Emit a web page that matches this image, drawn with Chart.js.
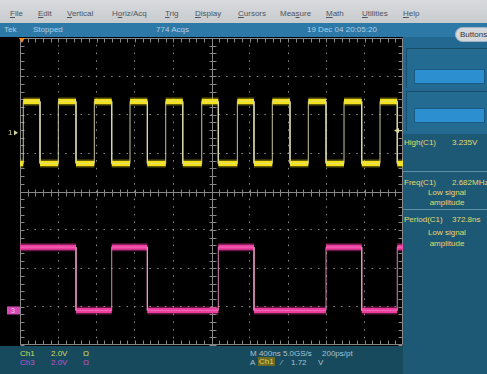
<!DOCTYPE html>
<html>
<head>
<meta charset="utf-8">
<title>Tek DPO – Ch1 / Ch3</title>
<script src="https://cdn.jsdelivr.net/npm/chart.js@4.4.1/dist/chart.umd.min.js"></script>
<style>
  html, body { margin: 0; padding: 0; }
  body {
    width: 487px; height: 374px; overflow: hidden; position: relative;
    background: #000; font-family: "Liberation Sans", Arial, sans-serif;
  }
  #menu { position: absolute; left: 0; top: 0; width: 487px; height: 23px;
          background: linear-gradient(#d8dadd, #c8cbce); }
  #menu span { position: absolute; top: 9px; font-size: 8px; color: #4d5563; }
  #menu span u { text-decoration: underline; }
  #status { position: absolute; left: 0; top: 23px; width: 487px; height: 14px; background: #2c78a7; }
  #status span { position: absolute; top: 2px; font-size: 8px; color: #b0cfe4; }
  #buttons { position: absolute; left: 455px; top: 27px; width: 38px; height: 15px; border-radius: 9px;
             background: #d5d8db; border: 1px solid #9fb4c4; box-sizing: border-box;
             font-size: 8px; line-height: 13px; color: #2f3438; padding-left: 4px; z-index: 3; }
  #scope { position: absolute; left: 0; top: 37px; }
  #side { position: absolute; left: 403px; top: 37px; width: 84px; height: 337px; background: #1d5874; }
  #side .upper { position: absolute; left: 0; top: 0; width: 84px; height: 97px; background: #226890; }
  #side .box { position: absolute; left: 3px; width: 81px; height: 40px; background: #246b92;
               border-top: 1px solid #174b68; border-left: 1px solid #174b68; box-sizing: border-box; }
  #side .bar { position: absolute; left: 7px; width: 71px; height: 15px; background: #2b8fd0;
               border: 1px solid #1a5b85; box-sizing: border-box; }
  #side .meas { position: absolute; left: 1px; font-size: 8px; color: #e3dc6c; white-space: nowrap; }
  #side .val { position: absolute; left: 49px; font-size: 8px; color: #e3dc6c; white-space: nowrap; }
  #side .note { position: absolute; left: 0; width: 88px; text-align: center; font-size: 8px; color: #e3dc6c; }
  #side .rule { position: absolute; left: 0; width: 84px; height: 1px; background: #5f8ea6; }
  #bottom { position: absolute; left: 0; top: 346px; width: 403px; height: 28px; background: #174a5c; }
  #bottom span { position: absolute; font-size: 8px; white-space: nowrap; }
  .c1 { color: #d9d862; }
  .c3 { color: #c255cc; }
  .hz { color: #a9c2cf; }
</style>
</head>
<body>
<div id="menu">
  <span style="left:10px"><u>F</u>ile</span>
  <span style="left:38px"><u>E</u>dit</span>
  <span style="left:67px"><u>V</u>ertical</span>
  <span style="left:112px">H<u>o</u>riz/Acq</span>
  <span style="left:165px"><u>T</u>rig</span>
  <span style="left:195px"><u>D</u>isplay</span>
  <span style="left:238px"><u>C</u>ursors</span>
  <span style="left:280px">Mea<u>s</u>ure</span>
  <span style="left:326px"><u>M</u>ath</span>
  <span style="left:362px"><u>U</u>tilities</span>
  <span style="left:403px"><u>H</u>elp</span>
</div>
<div id="status">
  <span style="left:4px">Tek</span>
  <span style="left:33px">Stopped</span>
  <span style="left:156px">774 Acqs</span>
  <span style="left:307px">19 Dec 04 20:05:20</span>
</div>
<div id="buttons">Buttons</div>

<canvas id="scope" width="404" height="309"></canvas>

<div id="side">
  <div class="upper"></div>
  <div class="box" style="top:11px"><div class="bar" style="top:20px"></div></div>
  <div class="box" style="top:54px"><div class="bar" style="top:16px"></div></div>
  <span class="meas" style="top:101px">High(C1)</span><span class="val" style="top:101px" id="highVal"></span>
  <div class="rule" style="top:134px"></div>
  <span class="meas" style="top:141px">Freq(C1)</span><span class="val" style="top:141px" id="freqVal"></span>
  <div class="note" style="top:151px">Low signal</div>
  <div class="note" style="top:161px">amplitude</div>
  <div class="rule" style="top:172px"></div>
  <span class="meas" style="top:178px">Period(C1)</span><span class="val" style="top:178px" id="periodVal"></span>
  <div class="note" style="top:191px">Low signal</div>
  <div class="note" style="top:202px">amplitude</div>
</div>

<div id="bottom">
  <span class="c1" style="left:20px;top:3px">Ch1</span>
  <span class="c1" style="left:51px;top:3px" id="ch1Scale"></span>
  <span class="c1" style="left:83px;top:3px">Ω</span>
  <span class="c3" style="left:20px;top:12px">Ch3</span>
  <span class="c3" style="left:51px;top:12px" id="ch3Scale"></span>
  <span class="c3" style="left:83px;top:12px">Ω</span>
  <span class="hz" style="left:250px;top:3px" id="timebase"></span>
  <span class="hz" style="left:322px;top:3px">200ps/pt</span>
  <span class="hz" style="left:250px;top:12px">A</span>
  <span class="c1" style="left:258px;top:11px;background:#6d6a24;padding:0 1px">Ch1</span>
  <span class="hz" style="left:281px;top:12px">⁄</span>
  <span class="hz" style="left:291px;top:12px" id="trigLevel"></span>
  <span class="hz" style="left:318px;top:12px">V</span>
</div>

<script>
// ---- acquisition settings ----
const nsPerDiv = 400;          // M 400ns
const timeDivs = 10;
const voltDivs = 8;
const ch1VoltsPerDiv = 2.0;
const ch3VoltsPerDiv = 2.0;
const ch1PositionDiv = 1.53;   // channel marker position (divisions from centre)
const ch1OffsetV = 1.6;
const ch3PositionDiv = -3.1;
const ch3OffsetV = 0.0;
const triggerTimeNs = 20;
const triggerLevelV = 1.72;

// ---- measurements ----
const ch1HighV = 3.235;        // High(C1)
const ch1LowV = 0.0;
const ch1FreqMHz = 2.682;      // Freq(C1)
const ch1PeriodNs = 372.8;     // Period(C1)
const ch3HighV = 3.3;
const ch3LowV = 0.0;

// ---- Ch1 edges (ns after left edge of record) ----
const ch1RiseNs = [34, 400, 776, 1149, 1522, 1898, 2270, 2635, 3011, 3384, 3760];
const ch1FallNs = [209, 585, 958, 1330, 1700, 2071, 2444, 2820, 3196, 3569, 3940];
const ch1StartsHigh = false;

// ---- Ch3 edges ----
const ch3RiseNs = [958, 2071, 3196, 3940];
const ch3FallNs = [585, 1330, 2444, 3569];
const ch3StartsHigh = true;

// ---- colours ----
const ch1Colour = '#f3e21c';
const ch3Colour = '#ee3c9f';
const gridGrey = '#878787';

const timeMin = 0;
const timeMax = nsPerDiv * timeDivs;

document.getElementById('highVal').textContent = ch1HighV.toFixed(3) + 'V';
document.getElementById('freqVal').textContent = ch1FreqMHz.toFixed(3) + 'MHz';
document.getElementById('periodVal').textContent = ch1PeriodNs.toFixed(1) + 'ns';
document.getElementById('ch1Scale').textContent = ch1VoltsPerDiv.toFixed(1) + 'V';
document.getElementById('ch3Scale').textContent = ch3VoltsPerDiv.toFixed(1) + 'V';
document.getElementById('timebase').textContent = 'M ' + nsPerDiv + 'ns 5.0GS/s';
document.getElementById('trigLevel').textContent = triggerLevelV.toFixed(2);

function edgeList(rises, falls) {
  return rises.concat(falls).sort((a, b) => a - b);
}

// full trace including the vertical transitions
function tracePoints(edges, startHigh, lo, hi) {
  let high = startHigh;
  const pts = [{ x: timeMin, y: high ? hi : lo }];
  for (const t of edges) {
    pts.push({ x: t, y: high ? hi : lo });
    high = !high;
    pts.push({ x: t, y: high ? hi : lo });
  }
  pts.push({ x: timeMax, y: high ? hi : lo });
  return pts;
}

// only the flat high / low runs, separated by gaps
function levelRuns(edges, startHigh, lo, hi) {
  let high = startHigh, start = timeMin;
  const pts = [];
  for (const t of edges.concat([timeMax])) {
    const v = high ? hi : lo;
    pts.push({ x: start, y: v }, { x: t, y: v }, { x: t, y: null });
    start = t;
    high = !high;
  }
  return pts;
}

function rgba(hex, a) {
  const n = parseInt(hex.slice(1), 16);
  return `rgba(${n >> 16},${(n >> 8) & 255},${n & 255},${a})`;
}

const ch1Edges = edgeList(ch1RiseNs, ch1FallNs);
const ch3Edges = edgeList(ch3RiseNs, ch3FallNs);

function axisRange(offset, posDiv, vPerDiv) {
  return {
    min: offset + (-voltDivs / 2 - posDiv) * vPerDiv,
    max: offset + (voltDivs / 2 - posDiv) * vPerDiv
  };
}
const ch1Range = axisRange(ch1OffsetV, ch1PositionDiv, ch1VoltsPerDiv);
const ch3Range = axisRange(ch3OffsetV, ch3PositionDiv, ch3VoltsPerDiv);

const lineBase = { pointRadius: 0, tension: 0, fill: false, spanGaps: false,
                   borderCapStyle: 'butt', borderJoinStyle: 'miter' };

// graticule: solid centre cross and frame with 1/5-division ticks
const graticule = {
  id: 'graticule',
  beforeDatasetsDraw(chart) {
    const { ctx, chartArea: a, scales: { x, y } } = chart;
    const px = v => Math.round(x.getPixelForValue(v)) + 0.5;
    const py = v => Math.round(y.getPixelForValue(v)) + 0.5;
    const cx = px(timeMax / 2), cy = py(0);
    const L = a.left + 0.5, R = a.right - 0.5, T = a.top + 0.5, B = a.bottom - 0.5;
    ctx.save();
    ctx.strokeStyle = gridGrey;
    ctx.lineWidth = 1;
    ctx.beginPath();
    ctx.moveTo(L, cy); ctx.lineTo(R, cy);
    ctx.moveTo(cx, T); ctx.lineTo(cx, B);
    ctx.rect(L, T, R - L, B - T);
    const tStep = nsPerDiv / 5;
    for (let i = 0; i <= timeDivs * 5; i++) {
      const p = px(timeMin + i * tStep);
      ctx.moveTo(p, cy - 3); ctx.lineTo(p, cy + 4);
      ctx.moveTo(p, T); ctx.lineTo(p, T + 4);
      ctx.moveTo(p, B); ctx.lineTo(p, B - 4);
    }
    for (let i = 0; i <= voltDivs * 5; i++) {
      const p = py(-voltDivs / 2 + i / 5);
      ctx.moveTo(cx - 3, p); ctx.lineTo(cx + 4, p);
      ctx.moveTo(L, p); ctx.lineTo(L + 4, p);
      ctx.moveTo(R, p); ctx.lineTo(R - 4, p);
    }
    ctx.stroke();
    ctx.restore();
  }
};

// channel, trigger position and trigger level markers
const markers = {
  id: 'markers',
  afterDatasetsDraw(chart) {
    const { ctx, chartArea: a, scales: { x, y, y1 } } = chart;
    ctx.save();
    // Ch1 ground marker
    const m1 = y.getPixelForValue(ch1PositionDiv);
    ctx.fillStyle = '#d6d49a';
    ctx.font = '8px "Liberation Sans", Arial, sans-serif';
    ctx.textBaseline = 'middle';
    ctx.fillText('1', 8, m1);
    ctx.beginPath();
    ctx.moveTo(14, m1 - 2.5); ctx.lineTo(18, m1); ctx.lineTo(14, m1 + 2.5);
    ctx.fill();
    // Ch3 ground marker
    const m3 = y.getPixelForValue(ch3PositionDiv);
    ctx.fillStyle = '#d64bb4';
    ctx.fillRect(7, m3 - 4, 13, 8);
    ctx.fillStyle = '#f4c6e6';
    ctx.font = '7px "Liberation Sans", Arial, sans-serif';
    ctx.fillText('3', 11, m3 + 0.5);
    // trigger position
    const tx = x.getPixelForValue(triggerTimeNs);
    ctx.fillStyle = '#f08a2a';
    ctx.beginPath();
    ctx.moveTo(tx - 3, a.top); ctx.lineTo(tx + 3, a.top); ctx.lineTo(tx, a.top + 5);
    ctx.fill();
    // trigger level on Ch1
    const ty = y1.getPixelForValue(triggerLevelV);
    ctx.fillStyle = '#dcd8a0';
    ctx.beginPath();
    ctx.moveTo(a.right - 9, ty); ctx.lineTo(a.right - 4, ty - 2.5); ctx.lineTo(a.right - 4, ty + 2.5);
    ctx.fill();
    ctx.fillRect(a.right - 4, ty - 0.5, 3, 1.2);
    ctx.restore();
  }
};

new Chart(document.getElementById('scope'), {
  type: 'line',
  data: {
    datasets: [
      Object.assign({ label: 'Ch3 halo', yAxisID: 'y3', borderWidth: 8,
        borderColor: rgba(ch3Colour, 0.4),
        data: levelRuns(ch3Edges, ch3StartsHigh, ch3LowV, ch3HighV) }, lineBase),
      Object.assign({ label: 'Ch3 edges', yAxisID: 'y3', borderWidth: 1,
        borderColor: 'rgba(236,150,200,0.9)',
        data: tracePoints(ch3Edges, ch3StartsHigh, ch3LowV, ch3HighV) }, lineBase),
      Object.assign({ label: 'Ch3', yAxisID: 'y3', borderWidth: 5,
        borderColor: ch3Colour,
        data: levelRuns(ch3Edges, ch3StartsHigh, ch3LowV, ch3HighV) }, lineBase),
      Object.assign({ label: 'Ch1 halo', yAxisID: 'y1', borderWidth: 8,
        borderColor: rgba(ch1Colour, 0.4),
        data: levelRuns(ch1Edges, ch1StartsHigh, ch1LowV, ch1HighV) }, lineBase),
      Object.assign({ label: 'Ch1 edges', yAxisID: 'y1', borderWidth: 1,
        borderColor: 'rgba(222,220,170,0.9)',
        data: tracePoints(ch1Edges, ch1StartsHigh, ch1LowV, ch1HighV) }, lineBase),
      Object.assign({ label: 'Ch1', yAxisID: 'y1', borderWidth: 5,
        borderColor: ch1Colour,
        data: levelRuns(ch1Edges, ch1StartsHigh, ch1LowV, ch1HighV) }, lineBase)
    ]
  },
  options: {
    responsive: false,
    animation: false,
    events: [],
    layout: { padding: { left: 20, top: 1, right: 1, bottom: 1 } },
    plugins: { legend: { display: false }, tooltip: { enabled: false } },
    scales: {
      x: {
        type: 'linear', min: timeMin, max: timeMax,
        ticks: { display: false, stepSize: nsPerDiv },
        grid: {
          drawTicks: false, lineWidth: 1,
          color: c => (c.tick && (c.tick.value === timeMin || c.tick.value === timeMax ||
                       c.tick.value === timeMax / 2)) ? 'rgba(0,0,0,0)' : gridGrey
        },
        border: { display: false, dash: [1.6, 6.08], dashOffset: 0.8 }
      },
      y: {
        type: 'linear', min: -voltDivs / 2, max: voltDivs / 2,
        ticks: { display: false, stepSize: 1 },
        grid: {
          drawTicks: false, lineWidth: 1,
          color: c => (c.tick && (Math.abs(c.tick.value) === voltDivs / 2 || c.tick.value === 0))
                       ? 'rgba(0,0,0,0)' : gridGrey
        },
        border: { display: false, dash: [1.6, 6.06], dashOffset: 0.8 }
      },
      y1: { type: 'linear', display: false, min: ch1Range.min, max: ch1Range.max },
      y3: { type: 'linear', display: false, min: ch3Range.min, max: ch3Range.max }
    }
  },
  plugins: [graticule, markers]
});
</script>
</body>
</html>
